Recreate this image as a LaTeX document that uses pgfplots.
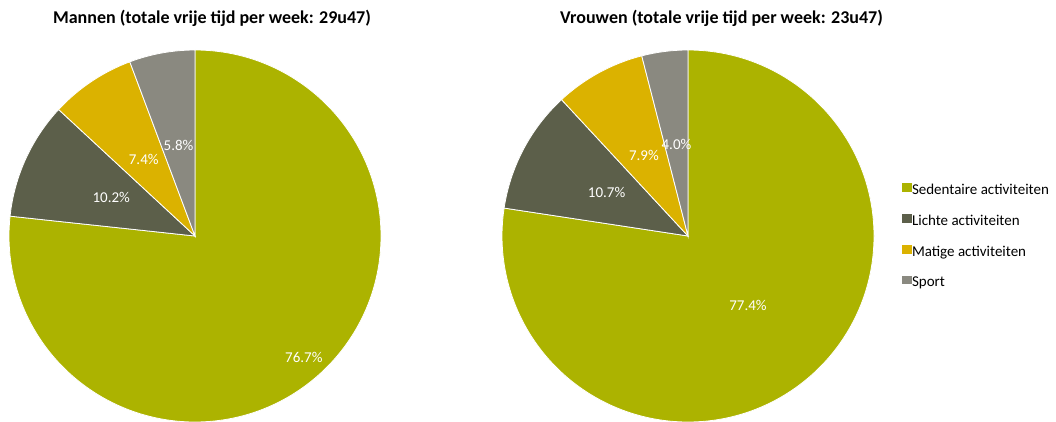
\documentclass[border=0pt]{standalone}
\usepackage{pgfplots}
\pgfplotsset{compat=1.18}
\usepackage{fontspec}
\setmainfont{Carlito}
\definecolor{sed}{HTML}{ACB300}
\definecolor{lic}{HTML}{5C5F4A}
\definecolor{mat}{HTML}{DBB200}
\definecolor{spo}{HTML}{8A8980}
% slice from cumulative percentage #1 to #2, clockwise from 12 o'clock
\newcommand{\slice}[3]{%
  \fill[#3, draw=white, line width=0.8pt] (axis cs:0,0) -- (axis cs:{cos(90-3.6*#1)},{sin(90-3.6*#1)})
    arc[start angle={90-3.6*#1}, end angle={90-3.6*#2}, radius=1] -- cycle;}
\newcommand{\plabel}[4]{%
  \node[white, font=\fontsize{15}{17}\selectfont] at (axis cs:{#3*cos(90-1.8*(#1+#2))},{#3*sin(90-1.8*(#1+#2))}) {#4};}
\pgfplotsset{pieaxis/.style={hide axis, scale only axis, x=186pt, y=186pt,
  xmin=-1, xmax=1, ymin=-1, ymax=1, anchor=origin, clip=false}}
\begin{document}
\begin{tikzpicture}[x=1pt,y=1pt]
\path[use as bounding box] (0,0) rectangle (1056,421);
\node[font=\bfseries\fontsize{18}{20}\selectfont] at (212,402.5) {Mannen (totale vrije tijd per week: 29u47)};
\node[font=\bfseries\fontsize{18}{20}\selectfont] at (721.5,402.5) {Vrouwen (totale vrije tijd per week: 23u47)};
\begin{axis}[pieaxis, at={(195pt,185pt)}]
\slice{0}{76.7}{sed}
\slice{76.7}{86.9}{lic}
\slice{86.9}{94.3}{mat}
\slice{94.3}{100}{spo}
\plabel{0}{76.7}{0.876}{76.7\%}
\plabel{76.7}{86.9}{0.495}{10.2\%}
\plabel{86.9}{94.3}{0.495}{7.4\%}
\plabel{94.3}{100}{0.495}{5.8\%}
\end{axis}
\begin{axis}[pieaxis, at={(688pt,185pt)},
  legend style={at={(axis cs:1.15,0)}, anchor=west, draw=none, fill=none, inner sep=0pt,
    font=\fontsize{15}{17}\selectfont, row sep=17pt,
    nodes={inner sep=1pt}},
  legend cell align=left,
  legend image code/.code={\fill[#1] (0pt,-1pt) rectangle (8.5pt,6.5pt);}]
\addlegendimage{sed}\addlegendentry{Sedentaire activiteiten}
\addlegendimage{lic}\addlegendentry{Lichte activiteiten}
\addlegendimage{mat}\addlegendentry{Matige activiteiten}
\addlegendimage{spo}\addlegendentry{Sport}
\slice{0}{77.4}{sed}
\slice{77.4}{88.1}{lic}
\slice{88.1}{96.0}{mat}
\slice{96.0}{100}{spo}
\plabel{0}{77.4}{0.495}{77.4\%}
\plabel{77.4}{88.1}{0.495}{10.7\%}
\plabel{88.1}{96.0}{0.495}{7.9\%}
\plabel{96.0}{100}{0.495}{4.0\%}
\end{axis}
\end{tikzpicture}
\end{document}
